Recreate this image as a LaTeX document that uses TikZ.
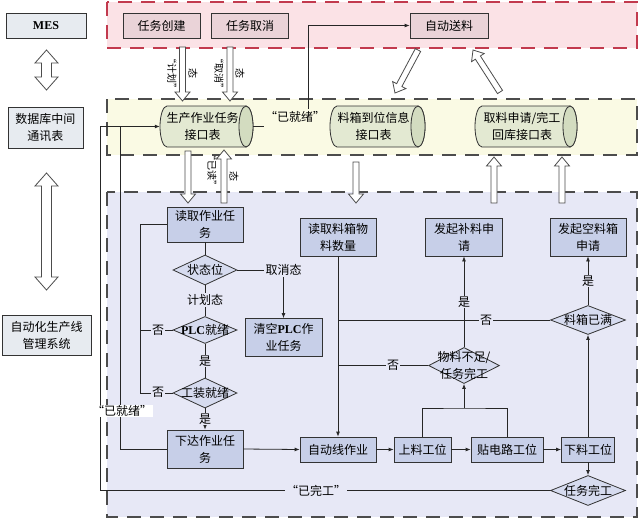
\documentclass[tikz,border=0pt]{standalone}
\usepackage{fontspec}
\setmainfont{Noto Sans CJK SC}
\newfontfamily\lserif{Liberation Serif}
\usetikzlibrary{shapes.geometric,arrows.meta,calc}
\definecolor{regred}{HTML}{FBE2E6}
\definecolor{regredline}{HTML}{C23A4E}
\definecolor{regyel}{HTML}{FAFAE4}
\definecolor{regblu}{HTML}{E7E8F6}
\definecolor{boxblu}{HTML}{C7CFE8}
\definecolor{diablu}{HTML}{D6DBEF}
\definecolor{topbox}{HTML}{EAD3D8}
\definecolor{leftbox}{HTML}{E7EBF0}
\definecolor{cylbody}{HTML}{E3E9D2}
\definecolor{cylendc}{HTML}{D3DCC0}
\newcommand{\fsz}{\fontsize{12}{17}\selectfont}
\newcommand{\fsm}{\fontsize{10}{12}\selectfont}
\newcommand{\hollowarrow}[4]{%
  \pgfmathsetmacro\harlen{veclen(#3-(#1),#4-(#2))}%
  \pgfmathsetmacro\harang{atan2(-(#4-(#2)),#3-(#1))}%
  \begin{scope}[shift={(#1,#2)},rotate=\harang]
    \filldraw[harrow] (0,-3) -- ({\harlen-9},-3) -- ({\harlen-9},-7.5) -- (\harlen,0) -- ({\harlen-9},7.5) -- ({\harlen-9},3) -- (0,3) -- cycle;
  \end{scope}}
\newcommand{\dblarrow}[3]{%
  \filldraw[harrow] (#1,#2) -- (#1+11.5,#2+13) -- (#1+5,#2+13) -- (#1+5,#3-13) -- (#1+11.5,#3-13) -- (#1,#3) -- (#1-11.5,#3-13) -- (#1-5,#3-13) -- (#1-5,#2+13) -- (#1-11.5,#2+13) -- cycle;}
\newcommand{\drawcyl}[4]{%
  \pgfmathsetmacro\cylry{(#4-(#2))/2}%
  \filldraw[cylline,fill=cylbody] (#1+7,#2) -- (#3-7,#2) arc[start angle=90,end angle=-90,x radius=7pt,y radius=\cylry pt] -- (#1+7,#4) arc[start angle=270,end angle=90,x radius=7pt,y radius=\cylry pt] -- cycle;
  \filldraw[cylline,fill=cylendc] (#3-7,{(#2+#4)/2}) ellipse[x radius=7pt,y radius=\cylry pt];}
\begin{document}
\begin{tikzpicture}[x=1pt,y=-1pt,
 conn/.style={line width=0.8pt,draw=black!85},
 arr/.style={conn,-{Latex[length=5pt,width=4pt]}},
 regline/.style={line width=1.1pt,dash pattern=on 14pt off 9pt,draw=black!70},
 harrow/.style={draw=black!70,line width=0.8pt,fill=white},
 cylline/.style={draw=black!80,line width=0.8pt},
 base/.style={draw=black!80,line width=0.8pt,align=center,inner sep=1pt,font=\fsz},
 flowbox/.style={base,fill=boxblu},
 tbox/.style={base,fill=topbox},
 lbox/.style={base,fill=leftbox},
 dia/.style={diamond,draw=black!80,line width=0.8pt,fill=diablu,inner sep=0pt},
 lbl/.style={font=\fsz,inner sep=1pt,fill=regblu},
 cyln/.style={inner sep=0pt,minimum height=41pt},
]
\useasboundingbox (0,0) rectangle (640,520);
% regions
\fill[regred] (107,2) rectangle (637,48);
\draw[regline,draw=regredline] (107,2) rectangle (637,48);
\fill[regyel] (107,99) rectangle (637,155);
\draw[regline] (107,99) rectangle (637,155);
\fill[regblu] (107,192) rectangle (637,517);
\draw[regline] (107,192) rectangle (637,517);
% hollow arrows
\hollowarrow{182.5}{47}{182.5}{101}
\hollowarrow{230}{47}{230}{101}
\hollowarrow{188}{151}{188}{203}
\hollowarrow{224}{203}{224}{150}
\hollowarrow{356}{162}{356}{203}
\hollowarrow{494}{203}{494}{157}
\hollowarrow{562}{203}{562}{157}
\hollowarrow{418}{50}{395}{93}
\hollowarrow{500}{92}{473}{50}
\dblarrow{46.5}{50}{90}
\dblarrow{46.5}{173}{290}
% left boxes
\node[lbox,minimum width=80,minimum height=25] (mes) at (46,25.5) {\lserif\bfseries MES};
\node[lbox,minimum width=75,minimum height=41] (db) at (45.5,127.5) {数据库中间\\通讯表};
\node[lbox,minimum width=89,minimum height=40] (ams) at (46.5,335) {自动化生产线\\管理系统};
% top boxes
\node[tbox,minimum width=77,minimum height=25] (t1) at (161.5,25.5) {任务创建};
\node[tbox,minimum width=77,minimum height=25] (t2) at (250,25.5) {任务取消};
\node[tbox,minimum width=78,minimum height=25] (t3) at (449,25.5) {自动送料};
% cylinders
\drawcyl{160}{106}{253}{147}
\node[cyln,minimum width=93pt,label={[font=\fsz,align=center,xshift=-4pt]center:生产作业任务\\接口表}] (c1) at (206.5,126.5) {};
\drawcyl{330}{106}{425}{147}
\node[cyln,minimum width=95pt,label={[font=\fsz,align=center,xshift=-4pt]center:料箱到位信息\\接口表}] (c2) at (377.5,126.5) {};
\drawcyl{475}{106}{577}{147}
\node[cyln,minimum width=102pt,label={[font=\fsz,align=center,xshift=-4pt]center:取料申请/完工\\回库接口表}] (c3) at (526,126.5) {};
% flow nodes
\node[flowbox,minimum width=76,minimum height=35] (b1) at (205,224.5) {读取作业任\\务};
\node[dia,minimum width=64,minimum height=30,label={[font=\fsz]center:状态位}] (d1) at (205,270) {};
\node[dia,minimum width=64,minimum height=27,label={[font=\fsz]center:{\lserif\bfseries PLC}就绪}] (d2) at (205,330) {};
\node[dia,minimum width=64,minimum height=30,label={[font=\fsz]center:工装就绪}] (d3) at (205,393) {};
\node[flowbox,minimum width=77,minimum height=38] (b2) at (283.5,337.5) {清空{\lserif\bfseries PLC}作\\业任务};
\node[flowbox,minimum width=76,minimum height=38] (b3) at (205,449) {下达作业任\\务};
\node[flowbox,minimum width=76,minimum height=38] (b4) at (338,237) {读取料箱物\\料数量};
\node[flowbox,minimum width=76,minimum height=25] (b5) at (338,449.5) {自动线作业};
\node[flowbox,minimum width=57,minimum height=25] (b6) at (422.5,449.5) {上料工位};
\node[flowbox,minimum width=72,minimum height=25] (b7) at (507,449.5) {贴电路工位};
\node[flowbox,minimum width=53,minimum height=25] (b8) at (588,449.5) {下料工位};
\node[flowbox,minimum width=77,minimum height=38] (b9) at (464,237) {发起补料申\\请};
\node[flowbox,minimum width=76,minimum height=38] (b10) at (588,237) {发起空料箱\\申请};
\node[dia,minimum width=71,minimum height=36,label={[font=\fsz,align=center]center:物料不足/\\任务完工}] (d4) at (464,365.5) {};
\node[dia,minimum width=75,minimum height=29,label={[font=\fsz]center:料箱已满}] (d5) at (588,320) {};
\node[dia,minimum width=75,minimum height=30,label={[font=\fsz]center:任务完工}] (d6) at (588,490.5) {};
\node[lbl] (qx) at (283.5,270) {取消态};
\node[font=\fsz,inner sep=1pt] (rdy) at (295,117) {“已就绪”};
% connectors
\draw[conn] (b1.south) -- (d1.north);
\draw[conn] (d1.south) -- (d2.north);
\draw[conn] (d2.south) -- (d3.north);
\draw[arr] (d3.south) -- (b3.north);
\draw[conn] (d1.east) -- (qx.west);
\draw[arr] (qx.south) -- (b2.north);
\coordinate (lp) at (140,224.5);
\draw[conn] (d2.west) -| (lp) -- (b1.west);
\draw[conn] (d3.west) -| (lp);
\draw[arr] (b3.east) -- (b5.west);
\draw[arr] (b4.south) -- (b5.north);
\draw[arr] (b5.east) -- (b6.west);
\draw[arr] (b6.east) -- (b7.west);
\draw[arr] (b7.east) -- (b8.west);
\coordinate (jn) at (464,408);
\draw[conn] (b6.north) |- (jn) -| (b7.north);
\draw[arr] (jn) -- (d4.south);
\draw[arr] (d4.north) -- (b9.south);
\draw[conn] (d4.west) -- (b4.south |- d4.west);
\draw[conn] (d5.west) -- (b4.south |- d5.west);
\draw[arr] (d5.north) -- (b10.south);
\draw[arr] (b8.north) -- (d5.south);
\draw[arr] (b8.south) -- (d6.north);
\coordinate (lx1) at (100,126.5);
\coordinate (lx2) at (120,126.5);
\draw[arr] (d6.west) -| (lx1) -- (c1.west);
\draw[conn] (b3.west) -| (lx2);
\draw[conn] (c1.east) -- (rdy.west |- c1.east);
\coordinate (rv) at (308,109);
\draw[arr] (rv) |- (t3.west);
% labels on lines
\node[lbl] (l1) at (205,300) {计划态};
\node[lbl] (l2) at (205,361) {是};
\node[lbl] (l3) at (158,330) {否};
\node[lbl] (l4) at (158,392) {否};
\node[lbl] (l5) at (205,419) {是};
\node[lbl] (l6) at (464,302) {是};
\node[lbl] (l7) at (486,320) {否};
\node[lbl] (l8) at (588,281) {是};
\node[lbl] (l9) at (393,365.5) {否};
\node[font=\fsz,inner sep=0.5pt,fill=white] (l10) at (122,411) {“已就绪”};
\node[lbl] (l11) at (316,490.5) {“已完工”};
% arrow labels
\node[font=\fsm,rotate=-90] (al1) at (172,73) {“计划”};
\node[font=\fsm,rotate=-90] (al2) at (193,73) {态};
\node[font=\fsm,rotate=-90] (al3) at (219,73) {“取消”};
\node[font=\fsm,rotate=-90] (al4) at (240,73) {态};
\node[font=\fsm,rotate=-90] (al5) at (212,170) {“已读”};
\node[font=\fsm,rotate=-90] (al6) at (234,176) {态};
\end{tikzpicture}
\end{document}
